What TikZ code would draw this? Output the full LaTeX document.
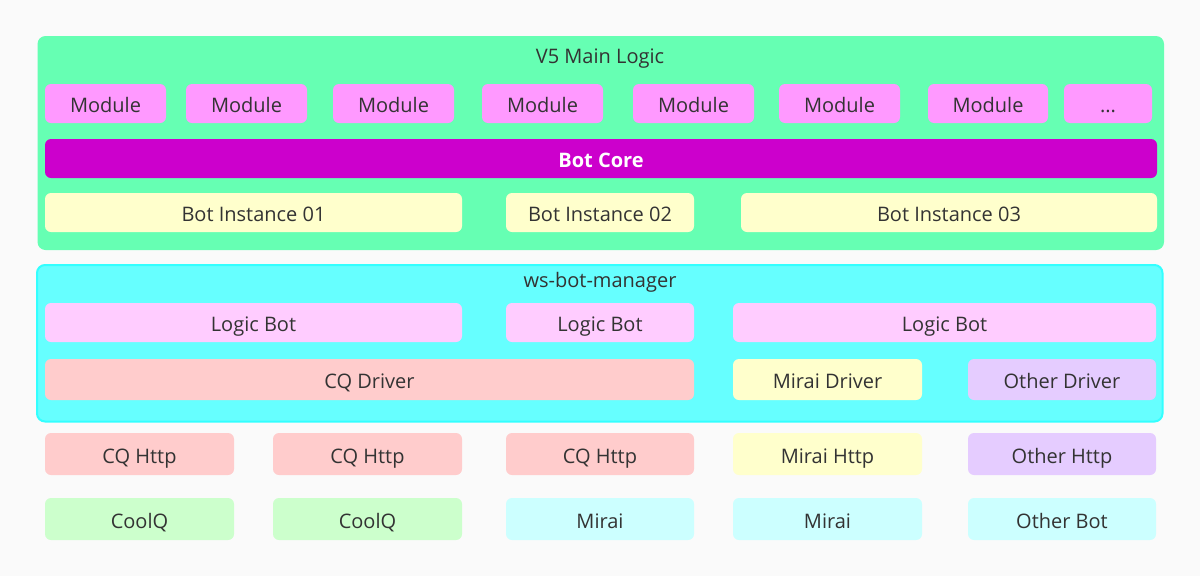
\documentclass[tikz,border=0pt]{standalone}
\usepackage{fontspec}
\setmainfont{Open Sans}
\definecolor{pagebg}{HTML}{FAFAFA}
\definecolor{txt}{HTML}{333333}
\definecolor{mainfill}{HTML}{66FFB3}
\definecolor{modfill}{HTML}{FF99FF}
\definecolor{corefill}{HTML}{CC00CC}
\definecolor{instfill}{HTML}{FFFFCC}
\definecolor{mgrfill}{HTML}{66FFFF}
\definecolor{mgrline}{HTML}{33FFFF}
\definecolor{logicfill}{HTML}{FFCCFF}
\definecolor{cqfill}{HTML}{FFCCCC}
\definecolor{miraifill}{HTML}{FFFFCC}
\definecolor{otherfill}{HTML}{E5CCFF}
\definecolor{coolqfill}{HTML}{CCFFCC}
\definecolor{botfill}{HTML}{CCFFFF}
\newcommand\moredots{...}
\tikzset{
  blk/.style={rounded corners=6pt, inner sep=0pt, text=txt,
    font=\fontsize{20}{24}\selectfont, text height=18pt, text depth=0pt},
  module/.style={blk, fill=modfill, minimum height=39},
  instance/.style={blk, fill=instfill, minimum height=39},
  logicbot/.style={blk, fill=logicfill, minimum height=39},
  driver/.style={blk, minimum height=41},
  lowbox/.style={blk, minimum height=42},
  layer/.style={rounded corners=8pt, inner sep=0pt},
  title/.style={text=txt, inner sep=0pt, font=\fontsize{20}{24}\selectfont,
    text height=18pt, text depth=0pt}
}
\begin{document}
\begin{tikzpicture}[x=1pt,y=-1pt]
\fill[pagebg] (0,0) rectangle (1200,576);
\useasboundingbox (0,0) rectangle (1200,576);

% V5 main logic
\node[layer, fill=mainfill, minimum width=1126.5, minimum height=214] (main) at (600.75,143) {};
\node[title] (maintitle) at (600,54) {V5 Main Logic};
\foreach \cx/\w/\t [count=\i] in {105.5/121/Module, 246.5/121/Module, 393.5/121/Module,
    542.5/121/Module, 693.5/121/Module, 839.5/121/Module, 988/120/Module, 1108/88/\moredots}
  \node[module, minimum width=\w] (mod\i) at (\cx,103.5) {\t};
\node[blk, fill=corefill, text=white, minimum width=1112, minimum height=39] (core) at (601,158.5) {\bfseries Bot Core};
\node[instance, minimum width=417] (inst1) at (253.5,212.5) {Bot Instance 01};
\node[instance, minimum width=188] (inst2) at (600,212.5) {Bot Instance 02};
\node[instance, minimum width=416] (inst3) at (949,212.5) {Bot Instance 03};

% ws-bot-manager
\node[layer, fill=mgrfill, draw=mgrline, line width=2pt, minimum width=1125.5, minimum height=156.5] (mgr) at (599.75,343.25) {};
\node[title] (mgrtitle) at (600,278) {ws-bot-manager};
\node[logicbot, minimum width=417] (lb1) at (253.5,322.5) {Logic Bot};
\node[logicbot, minimum width=188] (lb2) at (600,322.5) {Logic Bot};
\node[logicbot, minimum width=423] (lb3) at (944.5,322.5) {Logic Bot};
\node[driver, fill=cqfill, minimum width=649] (cqdrv) at (369.5,379.5) {CQ Driver};
\node[driver, fill=miraifill, minimum width=189] (miraidrv) at (827.5,379.5) {Mirai Driver};
\node[driver, fill=otherfill, minimum width=188] (otherdrv) at (1062,379.5) {Other Driver};

% http + bots
\node[lowbox, fill=cqfill, minimum width=189] (http1) at (139.5,454) {CQ Http};
\node[lowbox, fill=cqfill, minimum width=189] (http2) at (367.5,454) {CQ Http};
\node[lowbox, fill=cqfill, minimum width=188] (http3) at (600,454) {CQ Http};
\node[lowbox, fill=miraifill, minimum width=189] (http4) at (827.5,454) {Mirai Http};
\node[lowbox, fill=otherfill, minimum width=188] (http5) at (1062,454) {Other Http};
\node[lowbox, fill=coolqfill, minimum width=189] (bot1) at (139.5,519) {CoolQ};
\node[lowbox, fill=coolqfill, minimum width=189] (bot2) at (367.5,519) {CoolQ};
\node[lowbox, fill=botfill, minimum width=188] (bot3) at (600,519) {Mirai};
\node[lowbox, fill=botfill, minimum width=189] (bot4) at (827.5,519) {Mirai};
\node[lowbox, fill=botfill, minimum width=188] (bot5) at (1062,519) {Other Bot};
\end{tikzpicture}
\end{document}
